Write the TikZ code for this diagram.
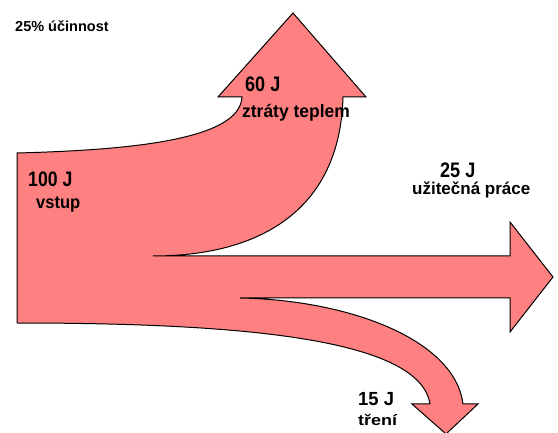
\documentclass[tikz,border=0pt]{standalone}
\usepackage{fontspec}
\setmainfont{Liberation Sans}
\usepackage{graphicx}
\definecolor{flow}{RGB}{255,128,128}
\tikzset{lbl/.style={anchor=base west, inner sep=0pt, font=\bfseries}}
\newcommand{\lt}[3]{\scalebox{#2}[1]{\fontsize{#1}{#1}\selectfont #3}}
\begin{document}
\begin{tikzpicture}[x=1pt,y=-1pt]
\useasboundingbox (0,0) rectangle (558,433);
\clip (0,0) rectangle (558,433);
\draw[fill=flow, line width=1pt, line join=miter]
  (17,153) .. controls (130,150) and (240,140) .. (242,97)
  -- (218,97) -- (293,13) -- (366,97) -- (343,97)
  .. controls (340,210) and (260,256) .. (153,256)
  -- (510,256) -- (510,222) -- (553,277) -- (510,332) -- (510,298) -- (240,298)
  .. controls (350,300) and (455,340) .. (463,404)
  -- (478,404) -- (446,434) -- (412,404) -- (430,404)
  .. controls (420,340) and (250,323) .. (17,323) -- cycle;
\node[lbl] (eff) at (15,32) {\lt{14.5}{1}{25\% účinnost}};
\node[lbl] (heatv) at (245,92) {\lt{21}{0.86}{60 J}};
\node[lbl] (heatt) at (242,118) {\lt{18}{0.97}{ztráty teplem}};
\node[lbl] (inv) at (28,187) {\lt{21}{0.84}{100 J}};
\node[lbl] (int) at (36,209) {\lt{18}{0.92}{vstup}};
\node[lbl] (workv) at (440,178) {\lt{21}{0.86}{25 J}};
\node[lbl] (workt) at (412,195) {\lt{17}{1}{užitečná práce}};
\node[lbl] (frv) at (358,406) {\lt{19}{0.97}{15 J}};
\node[lbl] (frt) at (358,425) {\lt{15}{1.2}{tření}};
\end{tikzpicture}
\end{document}
